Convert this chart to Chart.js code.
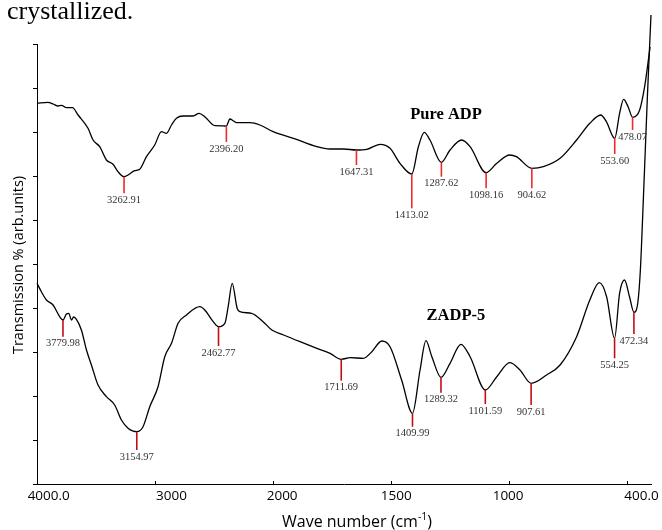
<!DOCTYPE html>
<html>
<head>
<meta charset="utf-8">
<script src="https://cdn.jsdelivr.net/npm/chart.js@4.4.1/dist/chart.umd.min.js"></script>
<style>
  html, body { margin: 0; padding: 0; background: #fff; }
  #wrap { position: relative; width: 662px; height: 530px; overflow: hidden; }
  #wrap canvas { position: absolute; left: 0; top: 0; }
  #caption { position: absolute; left: 7px; top: -2px; font: 26px/26px "Liberation Serif", "Times New Roman", serif; color: #000; white-space: nowrap; }
</style>
</head>
<body>
<div id="wrap">
  <canvas id="ftir" width="662" height="530"></canvas>
  <div id="caption">crystallized.</div>
</div>
<script>
// ---- FTIR spectra (wavenumber in cm-1, transmission in arbitrary units) ----
const pureAdpWavenumber = [4000, 3907, 3864, 3822, 3793, 3751, 3700, 3652, 3568, 3525, 3469, 3412, 3356, 3314, 3262.91, 3229, 3172, 3130, 3073, 3003, 2946, 2903, 2861, 2819, 2763, 2678, 2627, 2579, 2494, 2424, 2396.20, 2380, 2367, 2339, 2310, 2197, 2113, 2000, 1914, 1815, 1759, 1702, 1647.31, 1603, 1547, 1505, 1463, 1413.02, 1385, 1360, 1336, 1287.62, 1251, 1202, 1166, 1098.16, 1053, 998, 970, 904.62, 856, 785, 715, 659, 613, 589, 553.60, 533, 516, 497, 478.07, 448, 427, 413, 404];
const pureAdpTransmission = [380.7, 381.7, 380, 378, 378.7, 376.3, 376.3, 369, 355.7, 344, 337.3, 324, 319.7, 312.3, 307.3, 309, 313.3, 314.7, 327.3, 339, 352.3, 350.7, 359, 365.7, 368, 368, 370.7, 367.3, 358.3, 358.2, 357.8, 362, 365, 363.3, 361.3, 361.3, 359, 352.3, 345.7, 337.3, 335, 335, 334, 334.7, 339.7, 335.7, 320.7, 310, 337.3, 351.7, 344, 321.7, 334, 344, 337.3, 311.3, 320.7, 329, 327.3, 315.7, 317.3, 325.7, 344, 360.7, 369, 362.3, 345.7, 370.7, 384.7, 377.3, 366.7, 374, 397.3, 420.7, 437];

const zadpWavenumber = [4000, 3963, 3920, 3864, 3808, 3779.98, 3751, 3731, 3708, 3690, 3666, 3624, 3581, 3539, 3483, 3412, 3342, 3285, 3229, 3185, 3154.97, 3102, 3045, 2975, 2918, 2861, 2805, 2734, 2621, 2579, 2508, 2462.77, 2409, 2381, 2347, 2305, 2282, 2183, 2085, 2011, 1956, 1886, 1815, 1759, 1711.69, 1674, 1618, 1582, 1540, 1505, 1456, 1409.99, 1378, 1353, 1328, 1289.32, 1251, 1205, 1166, 1101.59, 1053, 998, 955, 907.61, 842, 785, 715, 659, 619, 588, 554.25, 533, 512, 491, 472.34, 456, 445, 430, 415, 400];
const zadpTransmission = [200.7, 192.3, 184, 179, 167.3, 164, 170, 170.7, 164, 167, 164.7, 154, 134, 119, 99, 87.3, 79, 64, 55.7, 52.8, 52.3, 57.3, 77.3, 97.3, 127.3, 140.7, 160.7, 169, 177.3, 174, 162.3, 157.3, 160.7, 177.3, 200.7, 175.7, 172.3, 170.7, 162.3, 154, 149, 142.3, 135.7, 130.7, 124.7, 126.3, 125.7, 132.3, 143, 137.3, 104, 70.7, 114, 143.3, 127.3, 106.7, 120.7, 139.7, 127.3, 94, 107.3, 121.3, 114, 100.7, 109, 119, 147.3, 184, 201.3, 187.3, 145.7, 190.7, 204, 187.3, 171.7, 181, 214, 299, 389, 469];

// Labelled band positions (cm-1)
const pureAdpPeaks = [3262.91, 2396.20, 1647.31, 1413.02, 1287.62, 1098.16, 904.62, 553.60, 478.07];
const zadpPeaks = [3779.98, 3154.97, 2462.77, 1711.69, 1409.99, 1289.32, 1101.59, 907.61, 554.25, 472.34];

// Series names
const seriesNames = ['Pure ADP', 'ZADP-5'];

// Axis ticks
const xTickValues = [4000, 3000, 2000, 1500, 1000, 500];
const xLabelValues = [4000, 3000, 2000, 1500, 1000, 400];
const xTickLabels = ['4000.0', '3000', '2000', '1500', '1000', '400.0'];

// ---- drawing styles ----
const style = {
  pureStick: [16.6, 15.7, 15, 34.3, 14.4, 15.6, 20, 15.7, 12.7],
  zadpStick: [16.7, 18.3, 19.3, 21.4, 13.4, 15.4, 14, 21.7, 20, 21.7],
  pureStickColor: '#ee2a2a',
  zadpStickColor: '#c40d12',
  peakFont: '10.5px "Liberation Serif", "Times New Roman", serif',
  peakColor: '#333',
  nameFont: 'bold 16.5px "Liberation Serif", "Times New Roman", serif',
  namePos: [{ x: 1268, y: 369 }, { x: 1226, y: 168 }],
  tickFont: '13.5px "Open Sans", sans-serif',
  tickDx: [11.7, 16.4, 9, 5, -1.2, -9.5],
  tickLabelY: 496.5,
  xTitleFont: '16px "Open Sans", sans-serif',
  xTitleSupFont: '10.5px "Open Sans", sans-serif',
  yTitleFont: '14.5px "Open Sans", sans-serif'
};

// Wavenumber axis with a 2x expansion below the break point (as on FTIR instruments)
class SplitWavenumberScale extends Chart.LinearScale {
  static id = 'splitWavenumber';
  static defaults = Chart.LinearScale.defaults;
  buildTicks() {
    return xTickValues.map(v => ({ value: v }));
  }
  _units(v) {
    const b = this.options.breakAt, k = this.options.expand;
    return v >= b ? this.max - v : (this.max - b) + k * (b - v);
  }
  getPixelForValue(v) {
    if (v === null || v === undefined || isNaN(v)) return NaN;
    return this.getPixelForDecimal(this._units(v) / this._units(this.min));
  }
  getValueForPixel(p) {
    const u = this.getDecimalForPixel(p) * this._units(this.min);
    const b = this.options.breakAt, k = this.options.expand;
    const top = this.max - b;
    return u <= top ? this.max - u : b - (u - top) / k;
  }
}
Chart.register(SplitWavenumberScale);

const toPoints = (xs, ys) => xs.map((x, i) => ({ x, y: ys[i] }));

const annotations = {
  id: 'spectrumAnnotations',
  afterDatasetsDraw(chart) {
    const { ctx, chartArea } = chart;
    const xs = chart.scales.x, ys = chart.scales.y;

    // band markers and their wavenumber labels
    const sets = [
      { peaks: pureAdpPeaks, w: pureAdpWavenumber, t: pureAdpTransmission, len: style.pureStick, color: style.pureStickColor },
      { peaks: zadpPeaks, w: zadpWavenumber, t: zadpTransmission, len: style.zadpStick, color: style.zadpStickColor }
    ];
    ctx.save();
    sets.forEach(s => {
      s.peaks.forEach((w, i) => {
        const px = xs.getPixelForValue(w);
        const py = ys.getPixelForValue(s.t[s.w.indexOf(w)]);
        ctx.strokeStyle = s.color;
        ctx.lineWidth = 1.6;
        ctx.beginPath();
        ctx.moveTo(px, py);
        ctx.lineTo(px, py + s.len[i]);
        ctx.stroke();
        ctx.fillStyle = style.peakColor;
        ctx.font = style.peakFont;
        ctx.textAlign = 'center';
        ctx.textBaseline = 'middle';
        ctx.fillText(w.toFixed(2), px, py + s.len[i] + 7);
      });
    });

    // series names
    ctx.fillStyle = '#000';
    ctx.font = style.nameFont;
    ctx.textAlign = 'center';
    ctx.textBaseline = 'middle';
    seriesNames.forEach((name, i) => {
      ctx.fillText(name, xs.getPixelForValue(style.namePos[i].x), ys.getPixelForValue(style.namePos[i].y));
    });

    // x tick labels
    ctx.font = style.tickFont;
    xTickLabels.forEach((lab, i) => {
      ctx.fillText(lab, xs.getPixelForValue(xLabelValues[i]) + style.tickDx[i], style.tickLabelY);
    });

    // x axis title with superscript
    const main = 'Wave number (cm', close = ')';
    ctx.font = style.xTitleFont;
    const wMain = ctx.measureText(main).width;
    const wClose = ctx.measureText(close).width;
    ctx.font = style.xTitleSupFont;
    const wSup = ctx.measureText('-1').width;
    const total = wMain + wSup + wClose;
    let sx = (chartArea.left + chartArea.right) / 2 + 13 - total / 2;
    const base = 527;
    ctx.textAlign = 'left';
    ctx.textBaseline = 'alphabetic';
    ctx.font = style.xTitleFont;
    ctx.fillText(main, sx, base);
    sx += wMain;
    ctx.font = style.xTitleSupFont;
    ctx.fillText('-1', sx, base - 7);
    sx += wSup;
    ctx.font = style.xTitleFont;
    ctx.fillText(close, sx, base);

    // y axis title
    ctx.font = style.yTitleFont;
    ctx.translate(18.5, (chartArea.top + chartArea.bottom) / 2 + 1);
    ctx.rotate(-Math.PI / 2);
    ctx.textAlign = 'center';
    ctx.textBaseline = 'middle';
    ctx.fillText('Transmission % (arb.units)', 0, 0);
    ctx.restore();
  }
};

new Chart(document.getElementById('ftir'), {
  type: 'line',
  data: {
    datasets: [
      { label: seriesNames[0], data: toPoints(pureAdpWavenumber, pureAdpTransmission) },
      { label: seriesNames[1], data: toPoints(zadpWavenumber, zadpTransmission) }
    ]
  },
  options: {
    responsive: false,
    animation: false,
    events: [],
    layout: { padding: { top: 44, right: 11, left: 0, bottom: 0 } },
    elements: {
      line: { borderColor: '#000', borderWidth: 1.3, cubicInterpolationMode: 'monotone', fill: false },
      point: { radius: 0 }
    },
    datasets: { line: { clip: false } },
    plugins: { legend: { display: false }, tooltip: { enabled: false } },
    scales: {
      x: {
        type: 'splitWavenumber',
        min: 400, max: 4000,
        breakAt: 2000, expand: 2,
        ticks: { display: false },
        grid: { drawOnChartArea: false, drawTicks: true, tickLength: -3, color: '#000', lineWidth: 1 },
        border: { display: true, color: '#000', width: 1 },
        afterFit(s) { s.height = 46; }
      },
      y: {
        type: 'linear',
        min: 0, max: 440,
        ticks: { display: false, stepSize: 44 },
        grid: { drawOnChartArea: false, drawTicks: true, tickLength: 4, color: '#000', lineWidth: 1 },
        border: { display: true, color: '#000', width: 1 },
        afterFit(s) { s.width = 37; }
      }
    }
  },
  plugins: [annotations]
});
</script>
</body>
</html>
